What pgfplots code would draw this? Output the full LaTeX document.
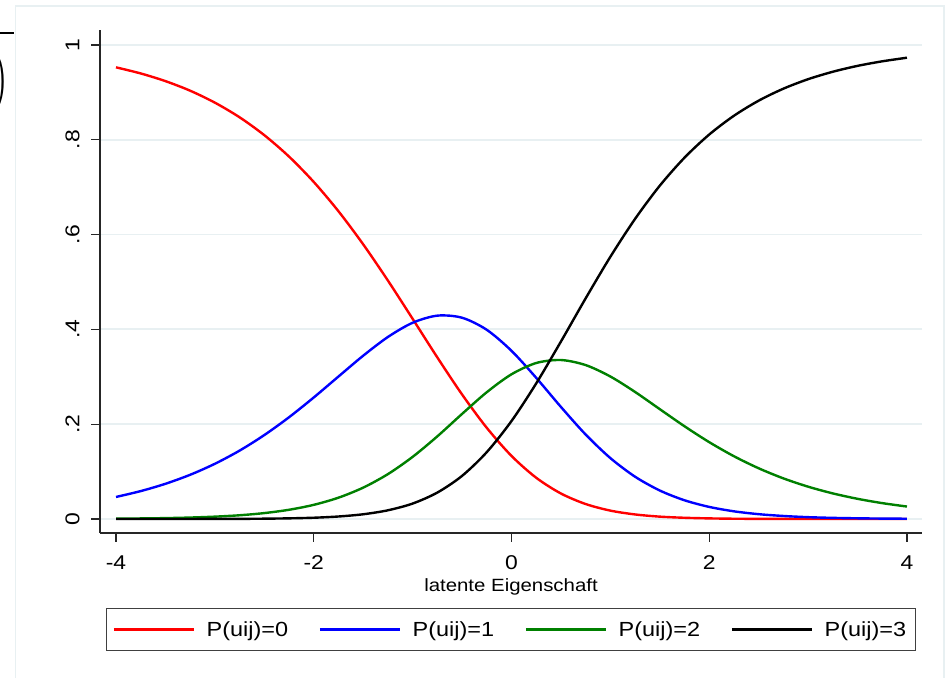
\documentclass[border=0pt]{standalone}
\usepackage{fontspec}
\setmainfont{Liberation Sans}[FakeStretch=1.15]
\usepackage{pgfplots}
\pgfplotsset{compat=1.18}
\definecolor{gridc}{RGB}{232,240,242}
\definecolor{framec}{RGB}{232,240,242}
\definecolor{sgreen}{RGB}{0,128,0}
\begin{document}
\begin{tikzpicture}[x=1bp,y=1bp]
\path[use as bounding box] (0,0) rectangle (945,678);
\fill[white] (0,0) rectangle (945,678);
\draw[framec, line width=1.5bp] (15.5,-5) -- (15.5,672) -- (944,672) -- (944,-5);
\draw[black, line width=1.3bp] (-2,645) -- (14,645);
\node[anchor=east, inner sep=0pt] at (9.5,596) {\scalebox{2.3}{$\Bigg)$}};
\begin{axis}[
  at={(100bp,145bp)}, anchor=south west,
  scale only axis, width=822bp, height=503bp,
  xmin=-4.162, xmax=4.152, ymin=-0.0295, ymax=1.0316,
  axis x line*=bottom, axis y line*=left,
  axis line style={line width=1.2bp, black!85},
  xtick={-4,-2,0,2,4}, xticklabels={-4,-2,0,2,4},
  ytick={0,0.2,0.4,0.6,0.8,1}, yticklabels={0,.2,.4,.6,.8,1},
  tick align=outside, major tick length=9bp,
  tick style={line width=1.2bp, black!85},
  ymajorgrids, grid style={line width=1.8bp, gridc},
  xticklabel style={font=\fontsize{20}{20}\selectfont},
  xticklabel shift=10bp,
  yticklabel style={font=\fontsize{20}{20}\selectfont, rotate=90, anchor=south},
  yticklabel shift=8bp,
  xlabel={latente Eigenschaft},
  xlabel style={font=\fontsize{17.8}{17.8}\selectfont, at={(axis description cs:0.5,0)}, anchor=base, yshift=-59bp},
  legend style={at={(0.5,-0.19185)}, anchor=center, legend columns=4,
    draw=black!75, line width=1bp, inner xsep=6bp, inner ysep=10bp,
    font=\fontsize{20.5}{20.5}\selectfont,
    nodes={inner xsep=3bp, inner ysep=3bp},
    /tikz/every odd column/.append style={column sep=8.5bp},
    /tikz/every even column/.append style={column sep=27.5bp}},
  legend image code/.code={\draw[#1] (0bp,0bp) -- (80bp,0bp);},
  every axis plot/.append style={line width=2.4bp, smooth},
]
\addplot[red] coordinates {
(-4,0.9528) (-3.75,0.9399) (-3.5,0.9237) (-3.25,0.9035) (-3,0.8783) (-2.75,0.8474)
(-2.5,0.8097) (-2.25,0.7645) (-2,0.7110) (-1.75,0.6492) (-1.5,0.5794) (-1.25,0.5030)
(-1,0.4223) (-0.75,0.3408) (-0.5,0.2627) (-0.25,0.1923) (0,0.1331) (0.25,0.0870)
(0.5,0.0538) (0.75,0.0316) (1,0.0177) (1.25,0.0096) (1.5,0.0050) (1.75,0.0026)
(2,0.0013) (2.25,0.0006) (2.5,0.0003) (2.75,0.0002) (3,0.0001) (3.25,0.0000)
(3.5,0.0000) (3.75,0.0000) (4,0.0000)};
\addlegendentry{P(uij)=0}
\addplot[blue] coordinates {
(-4,0.0465) (-3.75,0.0589) (-3.5,0.0743) (-3.25,0.0933) (-3,0.1165) (-2.75,0.1443)
(-2.5,0.1771) (-2.25,0.2147) (-2,0.2564) (-1.75,0.3006) (-1.5,0.3445) (-1.25,0.3840)
(-1,0.4140) (-0.75,0.4290) (-0.5,0.4246) (-0.25,0.3991) (0,0.3548) (0.25,0.2978)
(0.5,0.2364) (0.75,0.1782) (1,0.1285) (1.25,0.0892) (1.5,0.0601) (1.75,0.0395)
(2,0.0255) (2.25,0.0162) (2.5,0.0102) (2.75,0.0064) (3,0.0039) (3.25,0.0024)
(3.5,0.0015) (3.75,0.0009) (4,0.0006)};
\addlegendentry{P(uij)=1}
\addplot[sgreen] coordinates {
(-4,0.0007) (-3.75,0.0012) (-3.5,0.0019) (-3.25,0.0031) (-3,0.0050) (-2.75,0.0079)
(-2.5,0.0125) (-2.25,0.0195) (-2,0.0299) (-1.75,0.0450) (-1.5,0.0662) (-1.25,0.0947)
(-1,0.1311) (-0.75,0.1744) (-0.5,0.2217) (-0.25,0.2675) (0,0.3053) (0.25,0.3291)
(0.5,0.3354) (0.75,0.3247) (1,0.3006) (1.25,0.2680) (1.5,0.2317) (1.75,0.1956)
(2,0.1621) (2.25,0.1324) (2.5,0.1070) (2.75,0.0857) (3,0.0682) (3.25,0.0540)
(3.5,0.0426) (3.75,0.0335) (4,0.0263)};
\addlegendentry{P(uij)=2}
\addplot[black] coordinates {
(-4,0.0000) (-3.75,0.0000) (-3.5,0.0000) (-3.25,0.0001) (-3,0.0002) (-2.75,0.0003)
(-2.5,0.0007) (-2.25,0.0014) (-2,0.0027) (-1.75,0.0053) (-1.5,0.0100) (-1.25,0.0184)
(-1,0.0326) (-0.75,0.0558) (-0.5,0.0910) (-0.25,0.1411) (0,0.2067) (0.25,0.2861)
(0.5,0.3744) (0.75,0.4655) (1,0.5532) (1.25,0.6332) (1.5,0.7032) (1.75,0.7623)
(2,0.8111) (2.25,0.8507) (2.5,0.8825) (2.75,0.9078) (3,0.9278) (3.25,0.9435)
(3.5,0.9559) (3.75,0.9655) (4,0.9731)};
\addlegendentry{P(uij)=3}
\end{axis}
\end{tikzpicture}
\end{document}
